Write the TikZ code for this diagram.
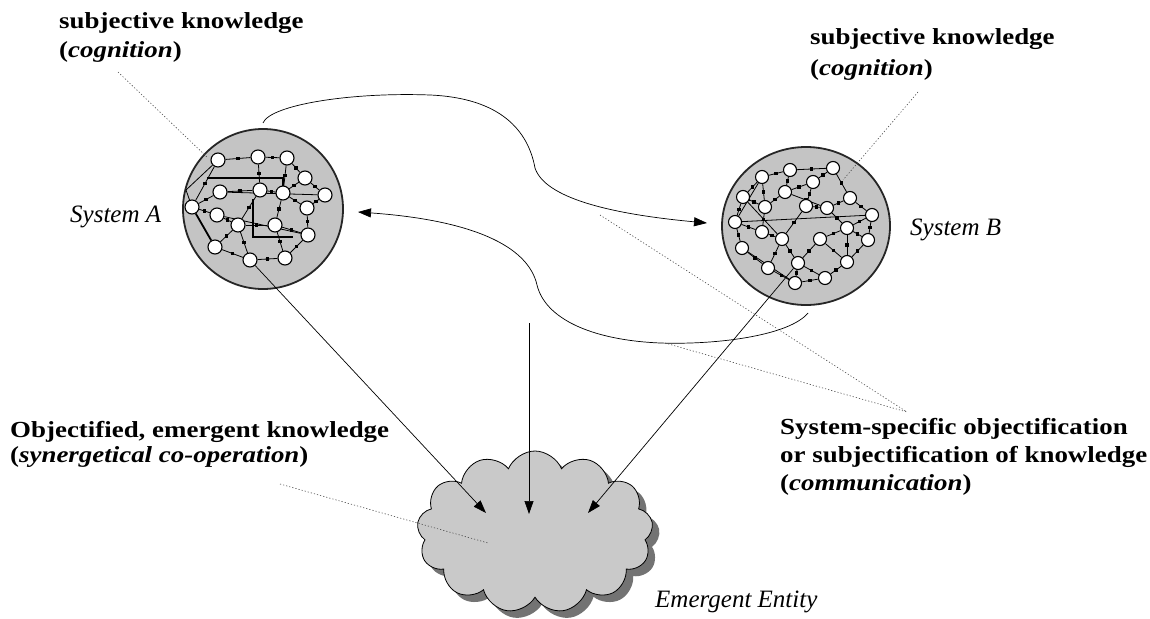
\documentclass[tikz,border=0pt]{standalone}
\usepackage{fontspec}
\setmainfont{Liberation Serif}
\newfontfamily\widefont{Liberation Serif}[FakeStretch=1.17]
\usetikzlibrary{arrows.meta,shapes.symbols,shapes.geometric,shadows}
\pgfdeclarelayer{bg}
\pgfdeclarelayer{mid}
\pgfsetlayers{bg,mid,main}
\begin{document}
\begin{tikzpicture}[x=1pt,y=-1pt,
  disk/.style={circle, draw=black!85, line width=1.8pt, fill=black!23, inner sep=0},
  diskb/.style={ellipse, draw=black!85, line width=1.8pt, fill=black!23, inner sep=0},
  wn/.style={circle, draw=black, line width=1.1pt, fill=white, minimum size=13pt, inner sep=0},
  sq/.style={rectangle, fill=black, minimum size=3.5pt, inner sep=0},
  net/.style={line width=0.8pt, black},
  thicknet/.style={line width=1.8pt, black},
  conn/.style={line width=0.7pt, black},
  tip/.style={-{Triangle[length=13pt,width=9pt]}},
  dots/.style={line width=0.6pt, black!70, dash pattern=on 1.2pt off 2pt},
  blab/.style={anchor=base west, inner sep=0, font=\widefont\fontsize{23}{27}\selectfont\bfseries},
  ilab/.style={anchor=base west, inner sep=0, font=\fontsize{25}{30}\selectfont\itshape}
]
\useasboundingbox (0,0) rectangle (1150,618);

% ---------------- labels
\node[blab] (tl1) at (59,29) {subjective knowledge};
\node[blab] (tl2) at (59,58) {(\textit{cognition})};
\node[blab] (tr1) at (810,45) {subjective knowledge};
\node[blab] (tr2) at (810,75) {(\textit{cognition})};
\node[blab] (ob1) at (10,437) {Objectified, emergent knowledge};
\node[blab] (ob2) at (10,462) {(\textit{synergetical co-operation})};
\node[blab] (ss1) at (780,434) {System-specific objectification};
\node[blab] (ss2) at (780,462) {or subjectification of knowledge};
\node[blab] (ss3) at (780,490) {(\textit{communication})};
\node[ilab] (sysA) at (70,222) {System A};
\node[ilab] (sysB) at (910,235) {System B};
\node[ilab] (emer) at (655,607) {Emergent Entity};

% ---------------- systems
\begin{pgfonlayer}{bg}
\node[disk, minimum size=160pt] (A) at (263,209) {};
\node[diskb, minimum width=168pt, minimum height=158pt] (B) at (806,226) {};
\end{pgfonlayer}

% nodes of system A
\foreach \n/\x/\y in {a1/218/160, a2/258/157, a3/287/158, a4/305/178, a5/325/195,
  a6/220/192, a7/260/190, a8/283/193, a9/307/208, a10/192/207, a11/217/215,
  a12/238/225, a13/275/225, a14/308/235, a15/215/247, a16/250/260, a17/285/258}
  \node[wn, minimum size=14pt] (\n) at (\x,\y) {};

% nodes of system B
\foreach \n/\x/\y in {b1/762/177, b2/790/170, b3/813/182, b4/833/168, b5/743/197,
  b6/785/192, b7/765/207, b8/806/206, b9/827/208, b10/850/198, b11/872/215,
  b12/735/222, b13/762/232, b14/782/239, b15/820/239, b16/847/228, b17/868/240,
  b18/742/248, b19/768/268, b20/798/263, b21/847/262, b22/795/283, b23/825/278}
  \node[wn] (\n) at (\x,\y) {};

\begin{pgfonlayer}{mid}
% network A
\foreach \u/\v in {a1/a2, a2/a3, a3/a4, a4/a5, a5/a9, a9/a14, a14/a17, a17/a16,
  a16/a15, a11/a10, a10/a6, a6/a7, a7/a8, a8/a9, a2/a7, a7/a12, a12/a13,
  a13/a8, a13/a17, a12/a16, a3/a8, a4/a8, a1/a10, a11/a12, a15/a12, a14/a13}
  \draw[net] (\u) -- (\v) node[sq,pos=0.5]{};
\draw[thicknet] (a10) -- (a15);
\draw[thicknet] (207,178) -- (283,178) -- (283,186);
\draw[thicknet] (253,199) -- (253,237) -- (293,237);
\draw[net] (a6) -- (a5);
\draw[net] (a10) -- (186,190) -- (a1);
\draw[net] (a11) -- (a14);
% network B
\foreach \u/\v in {b1/b2, b2/b4, b4/b10, b10/b11, b11/b17, b17/b21, b21/b23,
  b23/b22, b22/b19, b19/b18, b18/b12, b12/b5, b5/b1, b1/b7, b7/b6, b6/b3,
  b3/b8, b8/b9, b9/b10, b7/b13, b13/b12, b13/b14, b14/b20, b20/b15, b15/b16,
  b16/b9, b16/b21, b20/b23, b8/b14, b2/b6, b3/b4, b14/b19, b15/b21, b11/b16,
  b5/b7, b6/b9, b17/b16, b22/b20, b1/b12}
  \draw[net] (\u) -- (\v) node[sq,pos=0.5]{};
\draw[net] (b12) -- (b11);
\draw[net] (b5) -- (b14);
\draw[net] (b18) -- (b22);
\end{pgfonlayer}

% ---------------- cloud
\node[cloud, cloud puffs=13, cloud puff arc=135, aspect=1.47, draw=black,
  line width=0.8pt, fill=black!21, minimum width=236pt, minimum height=162pt,
  inner sep=0, drop shadow={shadow xshift=7pt, shadow yshift=-7pt,
  fill=black!55, opacity=1}] (E) at (535,532) {};

% ---------------- free ends
\coordinate (c1s) at (263,123);
\coordinate (c1a) at (430,95);
\coordinate (c1b) at (535,168);
\coordinate (c1e) at (707,223);
\coordinate (c2s) at (808,313);
\coordinate (c2a) at (660,343);
\coordinate (c2b) at (537,285);
\coordinate (c2e) at (358,212);
\coordinate (vs) at (529,323);
\coordinate (tipL) at (486,513);
\coordinate (tipM) at (529,514);
\coordinate (tipR) at (588,513);

% communication curves
\draw[conn, tip] (c1s) .. controls (270,105) and (350,92) .. (c1a)
  .. controls (500,98) and (528,130) .. (c1b)
  .. controls (545,198) and (610,214) .. (c1e);
\draw[conn, tip] (c2s) .. controls (790,335) and (720,345) .. (c2a)
  .. controls (590,340) and (545,318) .. (c2b)
  .. controls (528,245) and (470,220) .. (c2e);

% arrows into the cloud
\draw[conn, tip] (a16) -- (tipL);
\draw[conn, tip] (vs) -- (tipM);
\draw[conn, tip] (b20) -- (tipR);

% ---------------- dotted leaders
\coordinate (d1s) at (118,72);  \coordinate (d1e) at (208,158);
\coordinate (d2s) at (918,92);  \coordinate (d2e) at (843,180);
\coordinate (d3s) at (600,215); \coordinate (d4s) at (665,343);
\coordinate (dss) at (907,412);
\coordinate (d5s) at (280,484); \coordinate (d5e) at (488,543);
\draw[dots] (d1s) -- (d1e);
\draw[dots] (d2s) -- (d2e);
\draw[dots] (d3s) -- (dss);
\draw[dots] (d4s) -- (dss);
\draw[dots] (d5s) -- (d5e);
\end{tikzpicture}
\end{document}
